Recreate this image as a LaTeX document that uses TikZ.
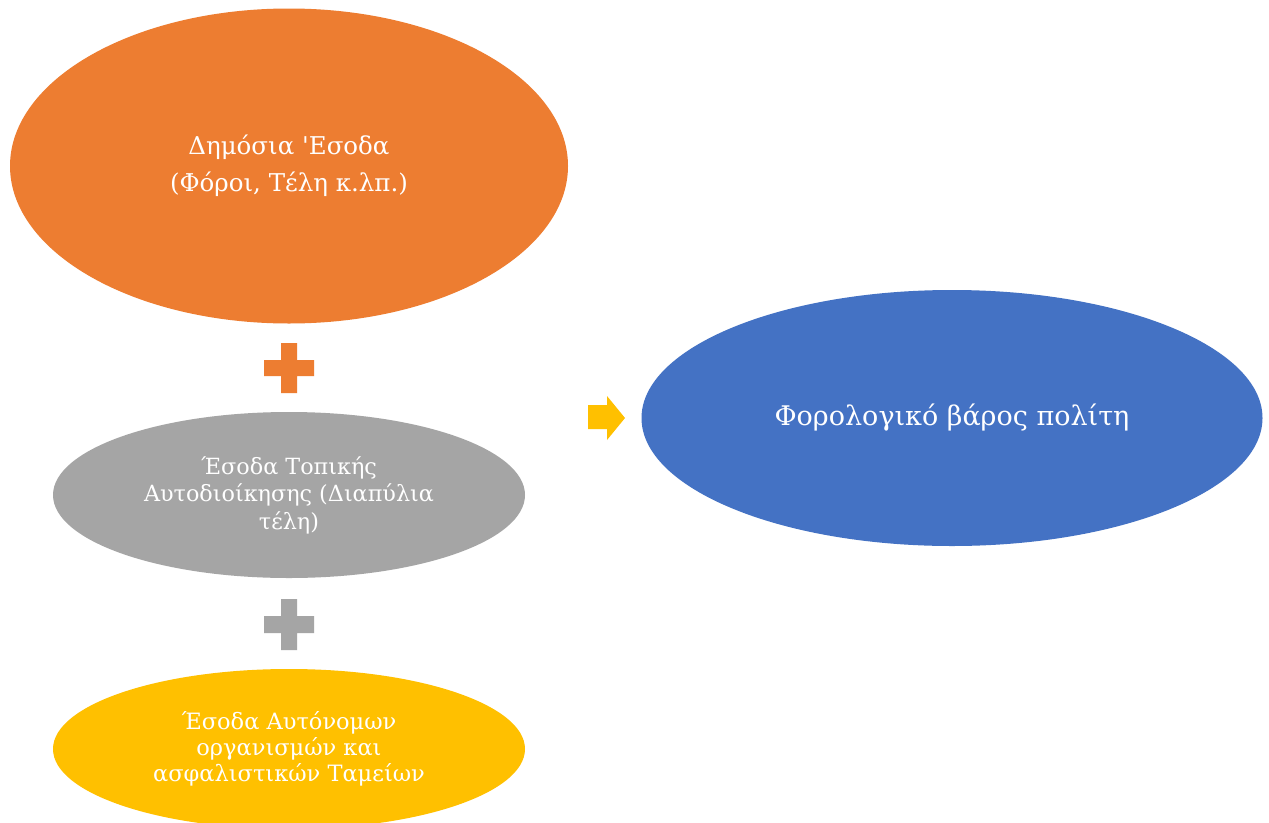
\documentclass[tikz,border=0pt]{standalone}
\usepackage{fontspec}
\setmainfont{DejaVu Serif}
% same face without TeX quote ligatures, for a straight apostrophe
\newfontfamily\straightq{DejaVu Serif}
\usetikzlibrary{shapes.geometric}
\definecolor{cOrange}{HTML}{ED7D31}
\definecolor{cGray}{HTML}{A5A5A5}
\definecolor{cGold}{HTML}{FFC000}
\definecolor{cBlue}{HTML}{4472C4}
\begin{document}
\begin{tikzpicture}[x=1pt,y=-1pt,
  blob/.style={ellipse, draw=none, inner sep=0pt, text=white, align=center}]
\useasboundingbox (0,0) rectangle (1269,822);
\fill[white] (0,0) rectangle (1269,822);

% income sources
\node[blob, fill=cOrange, minimum width=558pt, minimum height=315pt,
      font=\fontsize{24.5}{37}\selectfont] (state) at (289,166)
  {Δημόσια {\straightq '}Εσοδα\\(Φόροι, Τέλη κ.λπ.)};
\node[blob, fill=cGray, minimum width=472pt, minimum height=166pt,
      font=\fontsize{22.3}{27.5}\selectfont] (local) at (289,495)
  {Έσοδα Τοπικής\\Αυτοδιοίκησης (Διαπύλια\\τέλη)};
\node[blob, fill=cGold, minimum width=472pt, minimum height=160pt,
      font=\fontsize{22.5}{26}\selectfont] (funds) at (289,749)
  {Έσοδα Αυτόνομων\\οργανισμών και\\ασφαλιστικών Ταμείων};

% result
\node[blob, fill=cBlue, minimum width=621pt, minimum height=256pt,
      font=\fontsize{27}{32}\selectfont] (burden) at (952,418)
  {Φορολογικό βάρος πολίτη};

% plus signs
\fill[cOrange] (264,360) rectangle (314,376) (281,343) rectangle (297,393);
\fill[cGray] (264,616) rectangle (314,633) (281,599) rectangle (297,650);

% arrow towards the result
\fill[cGold] (588,405) -- (607,405) -- (607,396) -- (625,418) -- (607,440)
  -- (607,429) -- (588,429) -- cycle;
\end{tikzpicture}
\end{document}
